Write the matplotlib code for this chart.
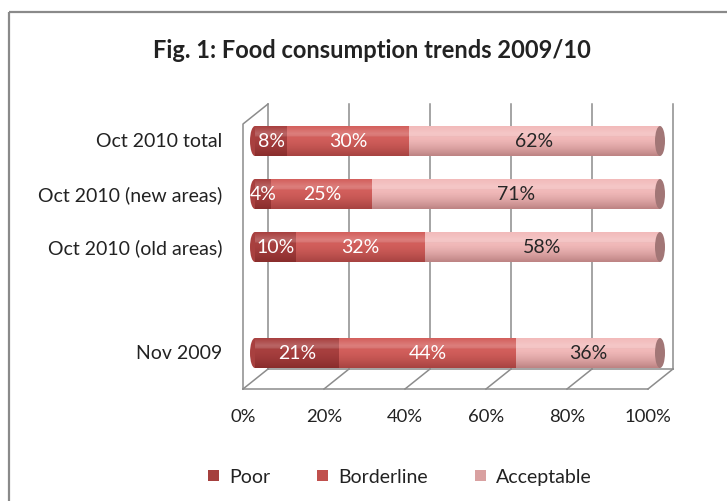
import matplotlib
matplotlib.use('Agg')
import matplotlib.pyplot as plt
import numpy as np
from matplotlib.patches import Ellipse, Rectangle
from matplotlib.lines import Line2D

plt.rcParams['font.family'] = ['Lato', 'DejaVu Sans']

# ---- data ----
categories = ['Nov 2009', '', 'Oct 2010 (old areas)', 'Oct 2010 (new areas)', 'Oct 2010 total']
poor = [21, 0, 10, 4, 8]
borderline = [44, 0, 32, 25, 30]
acceptable = [36, 0, 58, 71, 62]
series_names = ['Poor', 'Borderline', 'Acceptable']
tick_values = [0, 20, 40, 60, 80, 100]
tick_labels = ['0%', '20%', '40%', '60%', '80%', '100%']
title = 'Fig. 1: Food consumption trends 2009/10'

# ---- style ----
bar_colors = ['#A8403F', '#D35F5C', '#F2BABA']
legend_colors = ['#A5403E', '#C0504D', '#D9A1A1']
label_colors = ['white', 'white', '#262626']
cap_color = '#A27676'
grid_color = '#8C8C8C'
text_color = '#222222'
fs_cat, fs_tick, fs_lab, fs_leg, fs_title = 14, 13.3, 14, 14, 17

W, H = 727, 502
fig = plt.figure(figsize=(W / 100, H / 100), dpi=100)

# background overlay axes in pixel coordinates (top-down)
bg = fig.add_axes([0, 0, 1, 1], zorder=0)
bg.set_xlim(0, W)
bg.set_ylim(H, 0)
bg.axis('off')

# main axes: x 0..100 -> px 255..660 ; y category index
x0_px, x1_px = 255, 660
y_bot_px, y_top_px = 390, 105
c0_px, step_px = 354, 53
ymin = (c0_px - y_bot_px) / step_px
ymax = (c0_px - y_top_px) / step_px
ax = fig.add_axes([x0_px / W, 1 - y_bot_px / H, (x1_px - x0_px) / W, (y_bot_px - y_top_px) / H], zorder=1)
ax.set_xlim(0, 100)
ax.set_ylim(ymin, ymax)
ax.patch.set_alpha(0)
ax.axis('off')

def xpx(v):
    return x0_px + (x1_px - x0_px) * v / 100.0

# chart border
bg.add_patch(Rectangle((9, 13), W + 20, H + 20, fill=False, edgecolor='#8A8A8A', lw=1.6))

# 3D walls / gridlines
fdx, bdx, bdy = -12, 13, 20
lw = 1.1
for v in tick_values:
    xb = xpx(v) + bdx
    bg.add_line(Line2D([xb, xb], [y_bot_px - bdy, y_top_px], color=grid_color, lw=lw))
    xf = xpx(v) + fdx
    bg.add_line(Line2D([xf, xb], [y_bot_px, y_bot_px - bdy], color=grid_color, lw=lw))
bg.add_line(Line2D([xpx(0) + fdx, xpx(100) + fdx], [y_bot_px, y_bot_px], color=grid_color, lw=lw))
bg.add_line(Line2D([xpx(0) + bdx, xpx(100) + bdx], [y_bot_px - bdy, y_bot_px - bdy], color=grid_color, lw=lw))
bg.add_line(Line2D([xpx(0) + fdx, xpx(0) + fdx, xpx(0) + bdx],
                   [y_bot_px, y_top_px + bdy, y_top_px], color=grid_color, lw=lw))

# tick labels
for v, t in zip(tick_values, tick_labels):
    bg.text(xpx(v) + fdx, 417, t, ha='center', va='center', fontsize=fs_tick, color=text_color)

# bars
pos = np.arange(len(categories))
data = np.array([poor, borderline, acceptable], dtype=float)
totals = data.sum(axis=0)
bh = 30 / step_px
cap_w = 10 * 100 / (x1_px - x0_px)

# gradient for cylinder shading
grad = np.zeros((64, 1, 4))
t = np.linspace(0, 1, 64)  # 0 top -> 1 bottom
for i, tt in enumerate(t):
    if tt < 0.35:
        a = 0.20 * (1 - abs(tt - 0.25) / 0.25) if tt > 0.0 else 0.0
        grad[i, 0] = [1, 1, 1, max(a, 0)]
    else:
        a = 0.30 * ((tt - 0.35) / 0.65) ** 1.5
        grad[i, 0] = [0.25, 0, 0, a]

for i, c in enumerate(categories):
    if totals[i] == 0:
        continue
    pct = data[:, i] / totals[i] * 100
    left = 0
    # left rounded end
    ax.add_patch(Ellipse((0, pos[i]), cap_w, bh, facecolor=bar_colors[0], edgecolor='none',
                         zorder=2, clip_on=False))
    for s in range(3):
        ax.barh(pos[i], pct[s], left=left, height=bh, color=bar_colors[s], edgecolor='none', zorder=3)
        ax.text(left + pct[s] / 2, pos[i], f'{int(data[s, i])}%', ha='center', va='center',
                fontsize=fs_lab, color=label_colors[s], zorder=6)
        left += pct[s]
    ax.imshow(grad, extent=(0, 100, pos[i] - bh / 2, pos[i] + bh / 2), aspect='auto',
              zorder=4, interpolation='bilinear')
    ax.add_patch(Ellipse((100, pos[i]), cap_w, bh, facecolor=cap_color, edgecolor='none',
                         zorder=5, clip_on=False))

ax.set_xlim(0, 100)
ax.set_ylim(ymin, ymax)

# category labels
for i, c in enumerate(categories):
    if c:
        bg.text(222, c0_px - step_px * pos[i], c, ha='right', va='center', fontsize=fs_cat, color=text_color)

# title
bg.text(372, 50, title, ha='center', va='center', fontsize=fs_title, fontweight='bold', color=text_color)

# legend
handles = [Rectangle((0, 0), 1, 1, facecolor=legend_colors[k], edgecolor='none') for k in range(3)]
fig.legend(handles, series_names, loc='center', bbox_to_anchor=(400 / W, 1 - 478 / H), ncol=3,
           frameon=False, fontsize=fs_leg, handlelength=0.55, handleheight=0.55, handletextpad=0.55,
           columnspacing=2.4, labelcolor=text_color)

fig.savefig('out.png', dpi=100)
